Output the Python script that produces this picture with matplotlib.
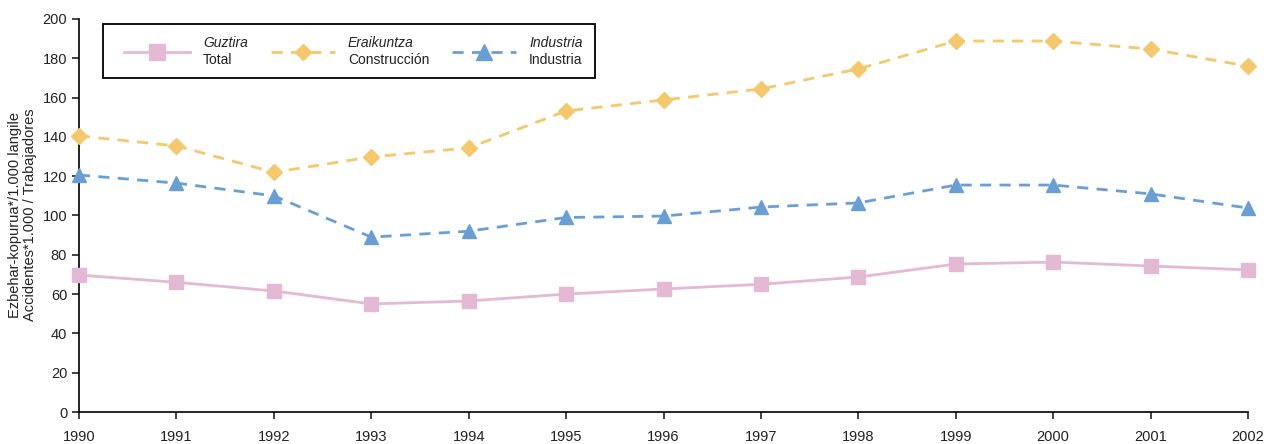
import matplotlib
matplotlib.use('Agg')
import matplotlib.pyplot as plt
from matplotlib.lines import Line2D
from matplotlib.patches import Rectangle

plt.rcParams['font.family'] = ['Liberation Sans', 'DejaVu Sans']

years = [1990, 1991, 1992, 1993, 1994, 1995, 1996, 1997, 1998, 1999, 2000, 2001, 2002]
total = [69.7, 66, 61.6, 55, 56.5, 60, 62.6, 65, 68.7, 75.3, 76.3, 74.3, 72.3]
construccion = [140.5, 135.4, 122, 129.8, 134.4, 153.2, 158.8, 164.4, 174.6, 188.8, 188.8, 184.7, 176]
industria = [120.6, 116.5, 110, 89, 92, 99, 99.7, 104.3, 106.4, 115.5, 115.5, 111, 103.8]

pink = '#e4b9d4'
yellow = '#f5c96b'
blue = '#6a9fd6'

fig = plt.figure(figsize=(12.71, 4.44), dpi=100)
ax = fig.add_axes([79/1271, 1 - 412/444, 1169/1271, 393/444])

ax.plot(years, total, color=pink, lw=2, marker='s', ms=10.5, mec=pink, clip_on=False, zorder=3)
ax.plot(years, construccion, color=yellow, lw=2, ls=(0, (4, 3)), marker='D', ms=8, mec=yellow, clip_on=False, zorder=3)
ax.plot(years, industria, color=blue, lw=2, ls=(0, (4, 3)), marker='^', ms=10.5, mec=blue, clip_on=False, zorder=3)

ax.set_xlim(1990, 2002)
ax.set_ylim(0, 200)
ax.set_xticks(years)
ax.set_yticks(range(0, 201, 20))
ax.spines['top'].set_visible(False)
ax.spines['right'].set_visible(False)
for s in ['left', 'bottom']:
    ax.spines[s].set_linewidth(1.2)
ax.tick_params(direction='out', length=5, width=1.2, labelsize=10.5, colors='#222222')
ax.tick_params(axis='x', pad=8)

fig.text(15/1271, 1 - 215/444, 'Ezbehar-kopurua*/1.000 langile', rotation=90,
         ha='center', va='center', fontsize=10.5, color='#222222')
fig.text(30/1271, 1 - 215/444, 'Accidentes*1.000 / Trabajadores', rotation=90,
         ha='center', va='center', fontsize=10.5, color='#222222')

# legend box drawn by hand (two-line labels, first line italic)
def fx(px):
    return (px - 79) / 1169

def fy(py):
    return (412 - py) / 393

ax.add_patch(Rectangle((fx(103), fy(78)), fx(595) - fx(103), fy(24) - fy(78),
                       transform=ax.transAxes, fill=False, ec='black', lw=1.3, zorder=5))
entries = [
    (124, 190, pink, '-', 's', 11, 'Guztira', 'Total'),
    (271, 335, yellow, (0, (4, 3)), 'D', 8, 'Eraikuntza', 'Construcción'),
    (452, 516, blue, (0, (4, 3)), '^', 11, 'Industria', 'Industria'),
]
for x0, x1, c, ls, mk, ms, it, rg in entries:
    ax.add_line(Line2D([fx(x0), fx(x1)], [fy(52), fy(52)], transform=ax.transAxes,
                       color=c, lw=2, ls=ls, zorder=6))
    ax.add_line(Line2D([fx((x0 + x1) / 2)], [fy(52)], transform=ax.transAxes,
                       color=c, marker=mk, ms=ms, mec=c, ls='none', zorder=6))
    ax.text(fx(x1 + 13), fy(43), it, transform=ax.transAxes, fontsize=10,
            style='italic', va='center', ha='left', color='#222222')
    ax.text(fx(x1 + 13), fy(60), rg, transform=ax.transAxes, fontsize=10,
            va='center', ha='left', color='#222222')

fig.savefig('out.png', dpi=100)
